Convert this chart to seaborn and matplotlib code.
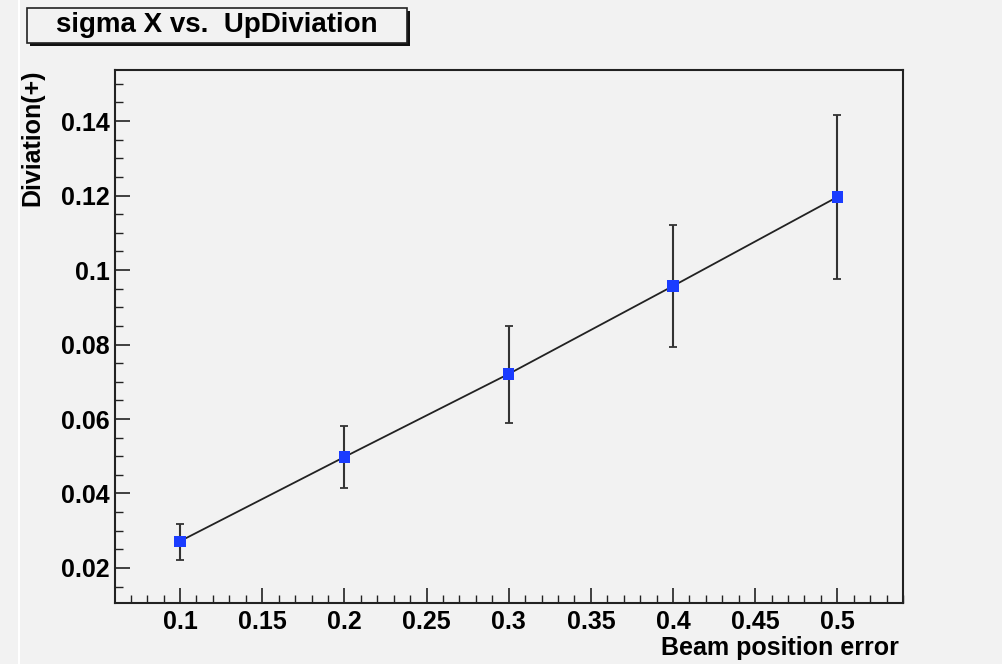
import matplotlib
matplotlib.use("Agg")
import matplotlib.pyplot as plt
from matplotlib.patches import Rectangle
from matplotlib.ticker import MultipleLocator, FuncFormatter
import seaborn as sns
import pandas as pd
import numpy as np

# Data
beam_error = [0.1, 0.2, 0.3, 0.4, 0.5]
deviation = [0.0272, 0.0498, 0.0721, 0.0957, 0.1196]
err_up = [0.0318, 0.0581, 0.0850, 0.1121, 0.1416]
err_low = [0.0221, 0.0415, 0.0589, 0.0793, 0.0976]

title = "sigma X vs.  UpDiviation"
xlabel = "Beam position error"
ylabel = "Diviation(+)"

sns.set_style("ticks")
plt.rcParams['font.family'] = ['Liberation Sans', 'DejaVu Sans']
plt.rcParams['text.color'] = 'black'
plt.rcParams['xtick.color'] = 'black'
plt.rcParams['ytick.color'] = 'black'

bg = "#f2f2f2"
fig = plt.figure(figsize=(10.03, 6.64), dpi=100, facecolor=bg)
ax = fig.add_axes([115/1003, 1-603/664, (903-115)/1003, (603-70)/664])
ax.set_facecolor(bg)

df = pd.DataFrame({"x": beam_error, "y": deviation})
yerr = np.array([np.array(deviation) - np.array(err_low), np.array(err_up) - np.array(deviation)])
ax.errorbar(df["x"], df["y"], yerr=yerr, fmt="none", ecolor="#333333", elinewidth=1.5,
            capsize=3, capthick=1.3, zorder=2)
sns.lineplot(data=df, x="x", y="y", ax=ax, color="#222222", linewidth=1.3, zorder=3)
sns.scatterplot(data=df, x="x", y="y", ax=ax, marker="s", s=65, color="#1a3cff",
                edgecolor="none", zorder=4)

ax.set_xlim(0.0604, 0.540)
ax.set_ylim(0.0106, 0.1537)

ax.xaxis.set_major_locator(MultipleLocator(0.05))
ax.xaxis.set_minor_locator(MultipleLocator(0.01))
ax.yaxis.set_major_locator(MultipleLocator(0.02))
ax.yaxis.set_minor_locator(MultipleLocator(0.005))

def fmt(v, pos):
    s = f"{v:.2f}".rstrip("0")
    return s
ax.xaxis.set_major_formatter(FuncFormatter(fmt))
ax.yaxis.set_major_formatter(FuncFormatter(fmt))

ax.tick_params(axis="both", which="major", direction="in", length=11, width=1.2,
               labelsize=18, pad=4, color="#222222", labelcolor="black")
ax.tick_params(axis="both", which="minor", direction="in", length=5.5, width=1.0,
               color="#222222")
ax.tick_params(axis="x", which="major", pad=5)
ax.tick_params(top=False, right=False, which="both")
for lab in ax.get_xticklabels() + ax.get_yticklabels():
    lab.set_fontweight("bold")

for sp in ax.spines.values():
    sp.set_linewidth(1.5)
    sp.set_color("#222222")

ax.set_xlabel("")
ax.set_ylabel("")
fig.text(899/1003, 1-648/664, xlabel, ha="right", va="center", fontsize=18, fontweight="bold")
fig.text(32/1003, 1-70/664, ylabel, ha="center", va="top", rotation=90, fontsize=18, fontweight="bold")

# Title box with shadow
bx0, bx1 = 27/1003, 407/1003
by0, by1 = 1-43/664, 1-8/664
fig.patches.append(Rectangle((bx0 + 3/1003, by0 - 3/664), bx1 - bx0, by1 - by0,
                             transform=fig.transFigure, facecolor="#111111", edgecolor="none", zorder=1))
fig.patches.append(Rectangle((bx0, by0), bx1 - bx0, by1 - by0, transform=fig.transFigure,
                             facecolor=bg, edgecolor="#222222", linewidth=1.2, zorder=2))
fig.text((bx0 + bx1) / 2, (by0 + by1) / 2, title, ha="center", va="center",
         fontsize=20, fontweight="bold", zorder=3)

# white strip at left like reference
fig.patches.append(Rectangle((18/1003, 0), 2/1003, 1, transform=fig.transFigure,
                             facecolor="white", edgecolor="none", zorder=0))

fig.savefig("out.png", dpi=100, facecolor=bg)
